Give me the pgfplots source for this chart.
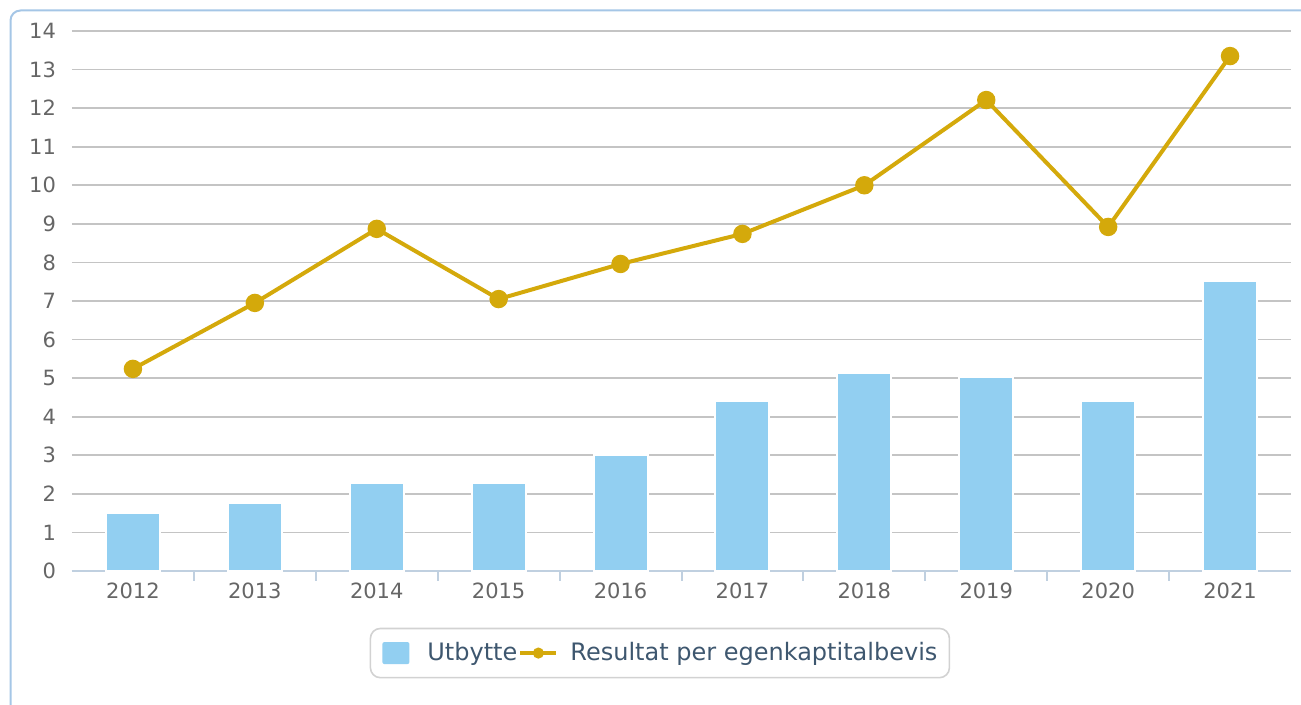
\documentclass[border=0pt]{standalone}
\usepackage{fontspec}
\setmainfont{DejaVu Sans}
\usepackage{pgfplots}
\pgfplotsset{compat=1.18}
\definecolor{barblue}{HTML}{92CFF1}
\definecolor{gold}{HTML}{D4A90B}
\definecolor{gridgray}{HTML}{C4C4C4}
\definecolor{axisblue}{HTML}{C0D0E0}
\definecolor{ticktext}{HTML}{666666}
\definecolor{legtext}{HTML}{3E576F}
\definecolor{framecol}{HTML}{A5C6E6}
\begin{document}
\begin{tikzpicture}[x=0.5pt,y=0.5pt]
\useasboundingbox (0,0) rectangle (1301,705);
\begin{scope}
\clip (0,0) rectangle (1301,705);
\draw[framecol, line width=1pt, rounded corners=5pt] (10.5,-30) rectangle (1340,694.5);
\end{scope}
\begin{axis}[
  at={(36pt,67pt)}, anchor=south west,
  scale only axis, width=609.5pt, height=270pt,
  xmin=-0.5, xmax=9.5, ymin=0, ymax=14,
  axis x line*=bottom, axis y line*=left,
  y axis line style={draw=none},
  x axis line style={axisblue, line width=1pt, -},
  ytick={0,1,...,14},
  xtick={0,...,9},
  xticklabels={2012,2013,2014,2015,2016,2017,2018,2019,2020,2021},
  major tick length=0pt,
  ytick style={draw=none},
  xtick style={draw=none},
  extra x ticks={0.5,1.5,...,8.5},
  extra x tick labels={},
  extra x tick style={major tick length=5pt, tick align=outside, xtick style={draw=axisblue, line width=1pt}},
  ymajorgrids,
  grid style={gridgray, line width=0.8pt},
  tick label style={font=\fontsize{10.5}{12}\selectfont, text=ticktext},
  /pgf/number format/assume math mode=true,
  yticklabel style={xshift=-4.5pt},
  xticklabel style={yshift=-2.5pt},
  clip=false,
  legend style={at={(0.4823,-0.152)}, anchor=center, draw=gray!35, line width=0.8pt, rounded corners=5pt,
    font=\fontsize{12}{14}\selectfont, text=legtext, legend columns=2,
    inner xsep=6pt, inner ysep=5pt, column sep=0.5pt,
    nodes={inner xsep=0pt}},
]
\addplot[ybar, bar width=27pt, fill=barblue, draw=white, line width=1pt,
  legend image code/.code={\fill[barblue, draw=none, rounded corners=1pt] (0pt,-5.5pt) rectangle (13.5pt,5.5pt); \node[draw=none, fill=none, inner sep=0pt] at (21.5pt,0pt) {};}]
  coordinates {(0,1.50) (1,1.76) (2,2.28) (3,2.28) (4,3.00) (5,4.41) (6,5.13) (7,5.03) (8,4.41) (9,7.52)};
\addlegendentry{Utbytte}
\addplot[gold, line width=2pt, mark=*, mark size=3.6pt, mark options={fill=gold, draw=gold},
  legend image code/.code={\draw[gold, line width=2pt] (0pt,0pt) -- (18pt,0pt); \fill[gold, draw=none] (9pt,0pt) circle (2.8pt); \node[draw=none, fill=none, inner sep=0pt] at (24pt,0pt) {};}]
  coordinates {(0,5.24) (1,6.95) (2,8.87) (3,7.05) (4,7.96) (5,8.74) (6,10.00) (7,12.21) (8,8.92) (9,13.35)};
\addlegendentry{Resultat per egenkaptitalbevis}
\end{axis}
\end{tikzpicture}
\end{document}
